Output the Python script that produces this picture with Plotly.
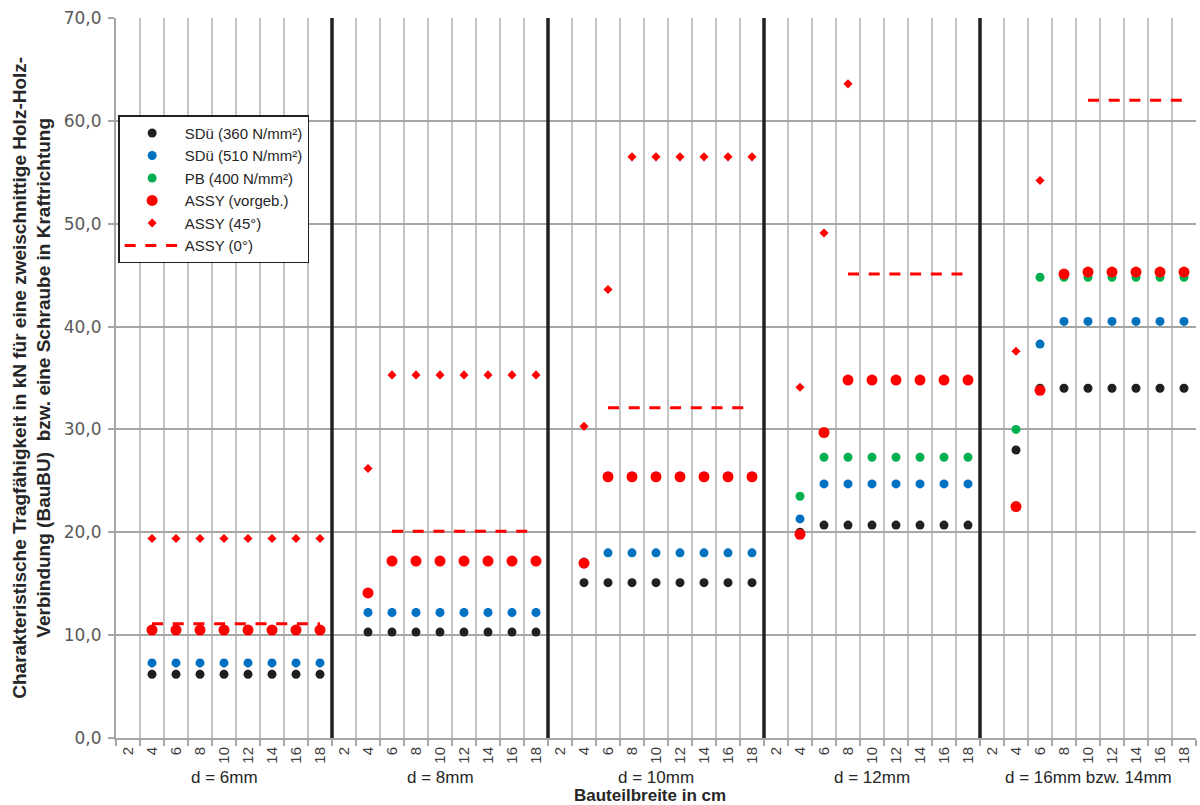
import plotly.graph_objects as go

# ---------------- data ----------------
widths = [2, 4, 6, 8, 10, 12, 14, 16, 18]          # Bauteilbreite in cm
group_labels = ["d = 6mm", "d = 8mm", "d = 10mm", "d = 12mm", "d = 16mm bzw. 14mm"]
N = None

sdu360 = [
    [N, 6.2, 6.2, 6.2, 6.2, 6.2, 6.2, 6.2, 6.2],
    [N, 10.3, 10.3, 10.3, 10.3, 10.3, 10.3, 10.3, 10.3],
    [N, 15.1, 15.1, 15.1, 15.1, 15.1, 15.1, 15.1, 15.1],
    [N, 20.0, 20.7, 20.7, 20.7, 20.7, 20.7, 20.7, 20.7],
    [N, 28.0, 34.0, 34.0, 34.0, 34.0, 34.0, 34.0, 34.0],
]
sdu510 = [
    [N, 7.3, 7.3, 7.3, 7.3, 7.3, 7.3, 7.3, 7.3],
    [N, 12.2, 12.2, 12.2, 12.2, 12.2, 12.2, 12.2, 12.2],
    [N, 17.1, 18.0, 18.0, 18.0, 18.0, 18.0, 18.0, 18.0],
    [N, 21.3, 24.7, 24.7, 24.7, 24.7, 24.7, 24.7, 24.7],
    [N, N, 38.3, 40.5, 40.5, 40.5, 40.5, 40.5, 40.5],
]
pb400 = [
    [N, N, N, N, N, N, N, N, N],
    [N, N, N, N, N, N, N, N, N],
    [N, N, N, N, N, N, N, N, N],
    [N, 23.5, 27.3, 27.3, 27.3, 27.3, 27.3, 27.3, 27.3],
    [N, 30.0, 44.8, 44.8, 44.8, 44.8, 44.8, 44.8, 44.8],
]
assy_vorgeb = [
    [N, 10.5, 10.5, 10.5, 10.5, 10.5, 10.5, 10.5, 10.5],
    [N, 14.1, 17.2, 17.2, 17.2, 17.2, 17.2, 17.2, 17.2],
    [N, 17.0, 25.4, 25.4, 25.4, 25.4, 25.4, 25.4, 25.4],
    [N, 19.8, 29.7, 34.8, 34.8, 34.8, 34.8, 34.8, 34.8],
    [N, 22.5, 33.8, 45.1, 45.3, 45.3, 45.3, 45.3, 45.3],
]
assy45 = [
    [N, 19.4, 19.4, 19.4, 19.4, 19.4, 19.4, 19.4, 19.4],
    [N, 26.2, 35.3, 35.3, 35.3, 35.3, 35.3, 35.3, 35.3],
    [N, 30.3, 43.6, 56.5, 56.5, 56.5, 56.5, 56.5, 56.5],
    [N, 34.1, 49.1, 63.6, N, N, N, N, N],
    [N, 37.6, 54.2, N, N, N, N, N, N],
]
assy0 = [
    [N, 11.1, 11.1, 11.1, 11.1, 11.1, 11.1, 11.1, 11.1],
    [N, N, 20.1, 20.1, 20.1, 20.1, 20.1, 20.1, 20.1],
    [N, N, 32.1, 32.1, 32.1, 32.1, 32.1, 32.1, 32.1],
    [N, N, N, 45.1, 45.1, 45.1, 45.1, 45.1, 45.1],
    [N, N, N, N, 62.0, 62.0, 62.0, 62.0, 62.0],
]

# ---------------- helpers ----------------
n_per = len(widths)
n_groups = len(group_labels)
xs = list(range(n_per * n_groups))
tick_text = [str(w) for _ in group_labels for w in widths]


def flat(g):
    return [v for grp in g for v in grp]


SANS = "Liberation Sans, Arial, sans-serif"
NARROW = "Liberation Sans Narrow, Liberation Sans, Arial, sans-serif"

fig = go.Figure()

marker_series = [
    ("SDü (360 N/mm²)", sdu360, "#231f20", "circle", 9),
    ("SDü (510 N/mm²)", sdu510, "#0070c0", "circle", 9),
    ("PB (400 N/mm²)", pb400, "#00b050", "circle", 9),
    ("ASSY (vorgeb.)", assy_vorgeb, "#ff0000", "circle", 11),
    ("ASSY (45°)", assy45, "#ff0000", "diamond", 7),
]
for name, data, color, sym, size in marker_series:
    fig.add_trace(go.Scatter(
        x=xs, y=flat(data), mode="markers", name=name,
        marker=dict(color=color, symbol=sym, size=size, line=dict(width=0)),
    ))

fig.add_trace(go.Scatter(
    x=xs, y=flat(assy0), mode="lines", name="ASSY (0°)",
    line=dict(color="#ff0000", width=3, dash="11px,9.7px"),
    connectgaps=False,
))

# group separators
shapes = []
for g in range(1, n_groups):
    xb = g * n_per - 0.5
    shapes.append(dict(type="line", xref="x", yref="y", x0=xb, x1=xb, y0=0, y1=70,
                       line=dict(color="#231f20", width=3.5), layer="above"))

annotations = []
for g, lab in enumerate(group_labels):
    annotations.append(dict(
        x=g * n_per + (n_per - 1) / 2, xref="x", y=-0.055, yref="paper",
        text=lab, showarrow=False, xanchor="center", yanchor="middle",
        font=dict(family=SANS, size=17, color="#262626"),
    ))
annotations.append(dict(
    x=0.494, xref="paper", y=-0.080, yref="paper",
    text="<b>Bauteilbreite in cm</b>", showarrow=False,
    xanchor="center", yanchor="middle",
    font=dict(family=SANS, size=17, color="#262626"),
))
annotations.append(dict(
    x=-0.078, xref="paper", y=0.5, yref="paper",
    text="<b>Charakteristische Tragfähigkeit in kN für eine zweischnittige Holz-Holz-<br>"
         "Verbindung (BauBU)  bzw. eine Schraube in Kraftrichtung</b>",
    showarrow=False, textangle=-90, xanchor="center", yanchor="middle",
    font=dict(family=NARROW, size=19, color="#262626"),
))

fig.update_layout(
    width=1200, height=805,
    margin=dict(l=116, r=4, t=18, b=67),
    paper_bgcolor="white", plot_bgcolor="white",
    separators=",.",
    showlegend=True,
    legend=dict(
        x=0.002, y=0.865, xanchor="left", yanchor="top",
        bgcolor="white", bordercolor="#231f20", borderwidth=1.5,
        font=dict(family=SANS, size=15, color="#262626"),
        tracegroupgap=0, itemwidth=55,
    ),
    shapes=shapes,
    annotations=annotations,
    xaxis=dict(
        range=[-0.5, len(xs) - 0.5],
        tickmode="array", tickvals=xs, ticktext=tick_text, tickangle=-90,
        ticks="", showgrid=False, zeroline=False, ticklabelstandoff=1,
        showline=True, linecolor="#a6a6a6", linewidth=2,
        tickfont=dict(family=NARROW, size=15, color="#404040"),
        minor=dict(tick0=-0.5, dtick=1, ticks="outside", ticklen=6,
                   tickcolor="#a6a6a6", tickwidth=1.5,
                   showgrid=True, gridcolor="#c4c4c4", gridwidth=2),
    ),
    yaxis=dict(
        range=[0, 70], tickmode="linear", tick0=0, dtick=10, tickformat=".1f",
        ticks="outside", ticklen=6, tickcolor="#a6a6a6", tickwidth=1.5,
        showgrid=True, gridcolor="#a6a6a6", gridwidth=2, zeroline=False,
        showline=True, linecolor="#a6a6a6", linewidth=2, ticklabelstandoff=3,
        tickfont=dict(family="DejaVu Sans, Verdana, sans-serif", size=17, color="#595959"),
    ),
)

fig.write_html("out.html")
